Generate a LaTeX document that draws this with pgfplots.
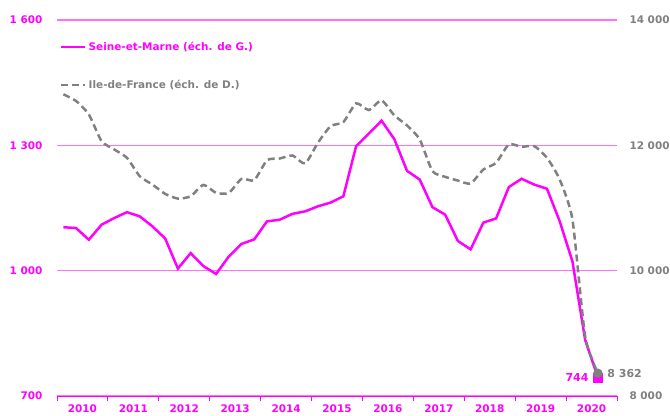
\documentclass[border=0pt]{standalone}
\usepackage{pgfplots}
\usepackage{pgfplotstable}
\pgfplotsset{compat=1.18}
\usepackage{fontspec}
\setmainfont{DejaVu Sans}
\definecolor{mag}{HTML}{FF00FF}
\definecolor{gridpink}{HTML}{FF70FF}
\definecolor{gr}{HTML}{808080}

\pgfplotstableread{
x y
0.5 1104
1.5 1102
2.5 1074
3.5 1110
4.5 1126
5.5 1140
6.5 1130
7.5 1106
8.5 1077
9.5 1005
10.5 1042
11.5 1011
12.5 992
13.5 1034
14.5 1064
15.5 1075
16.5 1118
17.5 1122
18.5 1136
19.5 1142
20.5 1154
21.5 1163
22.5 1178
23.5 1298
24.5 1328
25.5 1359
26.5 1315
27.5 1239
28.5 1218
29.5 1152
30.5 1134
31.5 1071
32.5 1051
33.5 1115
34.5 1125
35.5 1200
36.5 1220
37.5 1206
38.5 1196
39.5 1118
40.5 1022
41.5 834
42.5 744
}\seine

\pgfplotstableread{
x y
0.5 12814
1.5 12707
2.5 12494
3.5 12067
4.5 11934
5.5 11800
6.5 11507
7.5 11374
8.5 11225
9.5 11150
10.5 11187
11.5 11369
12.5 11241
13.5 11241
14.5 11465
15.5 11443
16.5 11763
17.5 11790
18.5 11838
19.5 11710
20.5 12041
21.5 12307
22.5 12371
23.5 12670
24.5 12563
25.5 12718
26.5 12478
27.5 12318
28.5 12094
29.5 11587
30.5 11497
31.5 11438
32.5 11390
33.5 11614
34.5 11720
35.5 12014
36.5 11977
37.5 11987
38.5 11800
39.5 11454
40.5 10814
41.5 8947
42.5 8362
}\idf

\begin{document}
\begin{tikzpicture}
\begin{axis}[
  at={(0,0)}, anchor=south west,
  scale only axis, width=560bp, height=376bp,
  xmin=0, xmax=44, ymin=700, ymax=1600,
  axis x line*=bottom, axis y line*=left,
  y axis line style={draw=none},
  x axis line style={mag, line width=1pt},
  xtick={0,4,...,44},
  xticklabels={2010,2011,2012,2013,2014,2015,2016,2017,2018,2019,2020},
  x tick label as interval,
  tick align=outside,
  x tick style={mag, line width=1pt},
  major tick length=5bp,
  ytick={700,1000,1300,1600},
  yticklabels={700,1 000,1 300,1 600},
  y tick style={draw=none},
  ymajorgrids, grid style={gridpink, line width=1.6bp},
  tick label style={font=\bfseries\fontsize{10.5}{12}\selectfont},
  xticklabel style={mag},
  yticklabel style={mag, xshift=-6bp},
  clip=false,
]
\addplot[mag, line width=2.5bp] table {\seine};
\addplot[only marks, mark=square*, mag, mark size=4.5bp, forget plot] coordinates {(42.5,744)};
\node[mag, anchor=east, font=\bfseries\fontsize{11}{12}\selectfont, xshift=-6bp] at (axis cs:42.5,744) {744};
\end{axis}
\begin{axis}[
  at={(0,0)}, anchor=south west,
  scale only axis, width=560bp, height=376bp,
  xmin=0, xmax=44, ymin=8000, ymax=14000,
  axis x line=none, axis y line*=right,
  y axis line style={draw=none},
  scaled y ticks=false,
  grid=none,
  ytick={8000,10000,12000,14000},
  yticklabels={8 000,10 000,12 000,14 000},
  y tick style={draw=none},
  major tick length=0pt,
  yticklabel style={gr, font=\bfseries\fontsize{10.5}{12}\selectfont, xshift=9bp},
  clip=false,
  legend style={at={(axis description cs:0,1)}, anchor=north west,
    draw=none, fill=none, font=\bfseries\fontsize{10.5}{12}\selectfont,
    row sep=24bp, xshift=0bp, yshift=-18bp},
  legend cell align=left,
  legend image code/.code={\draw[#1] (0bp,0bp) -- (24bp,0bp);},
]
\addlegendimage{mag, line width=2.5bp}
\addlegendentry{\textcolor{mag}{Seine-et-Marne (éch. de G.)}}
\addplot[gr, line width=2.5bp, dash pattern=on 7bp off 4bp, smooth, tension=0.35] table {\idf};
\addlegendentry{\textcolor{gr}{Ile-de-France (éch. de D.)}}
\addplot[only marks, mark=*, gr, mark size=4.5bp, forget plot] coordinates {(42.5,8362)};
\node[gr, anchor=west, font=\bfseries\fontsize{11}{12}\selectfont, xshift=6bp] at (axis cs:42.5,8362) {8 362};
\end{axis}
\pgfresetboundingbox
\path[use as bounding box] (-57bp,-20bp) rectangle (613bp,396bp);
\end{tikzpicture}
\end{document}
